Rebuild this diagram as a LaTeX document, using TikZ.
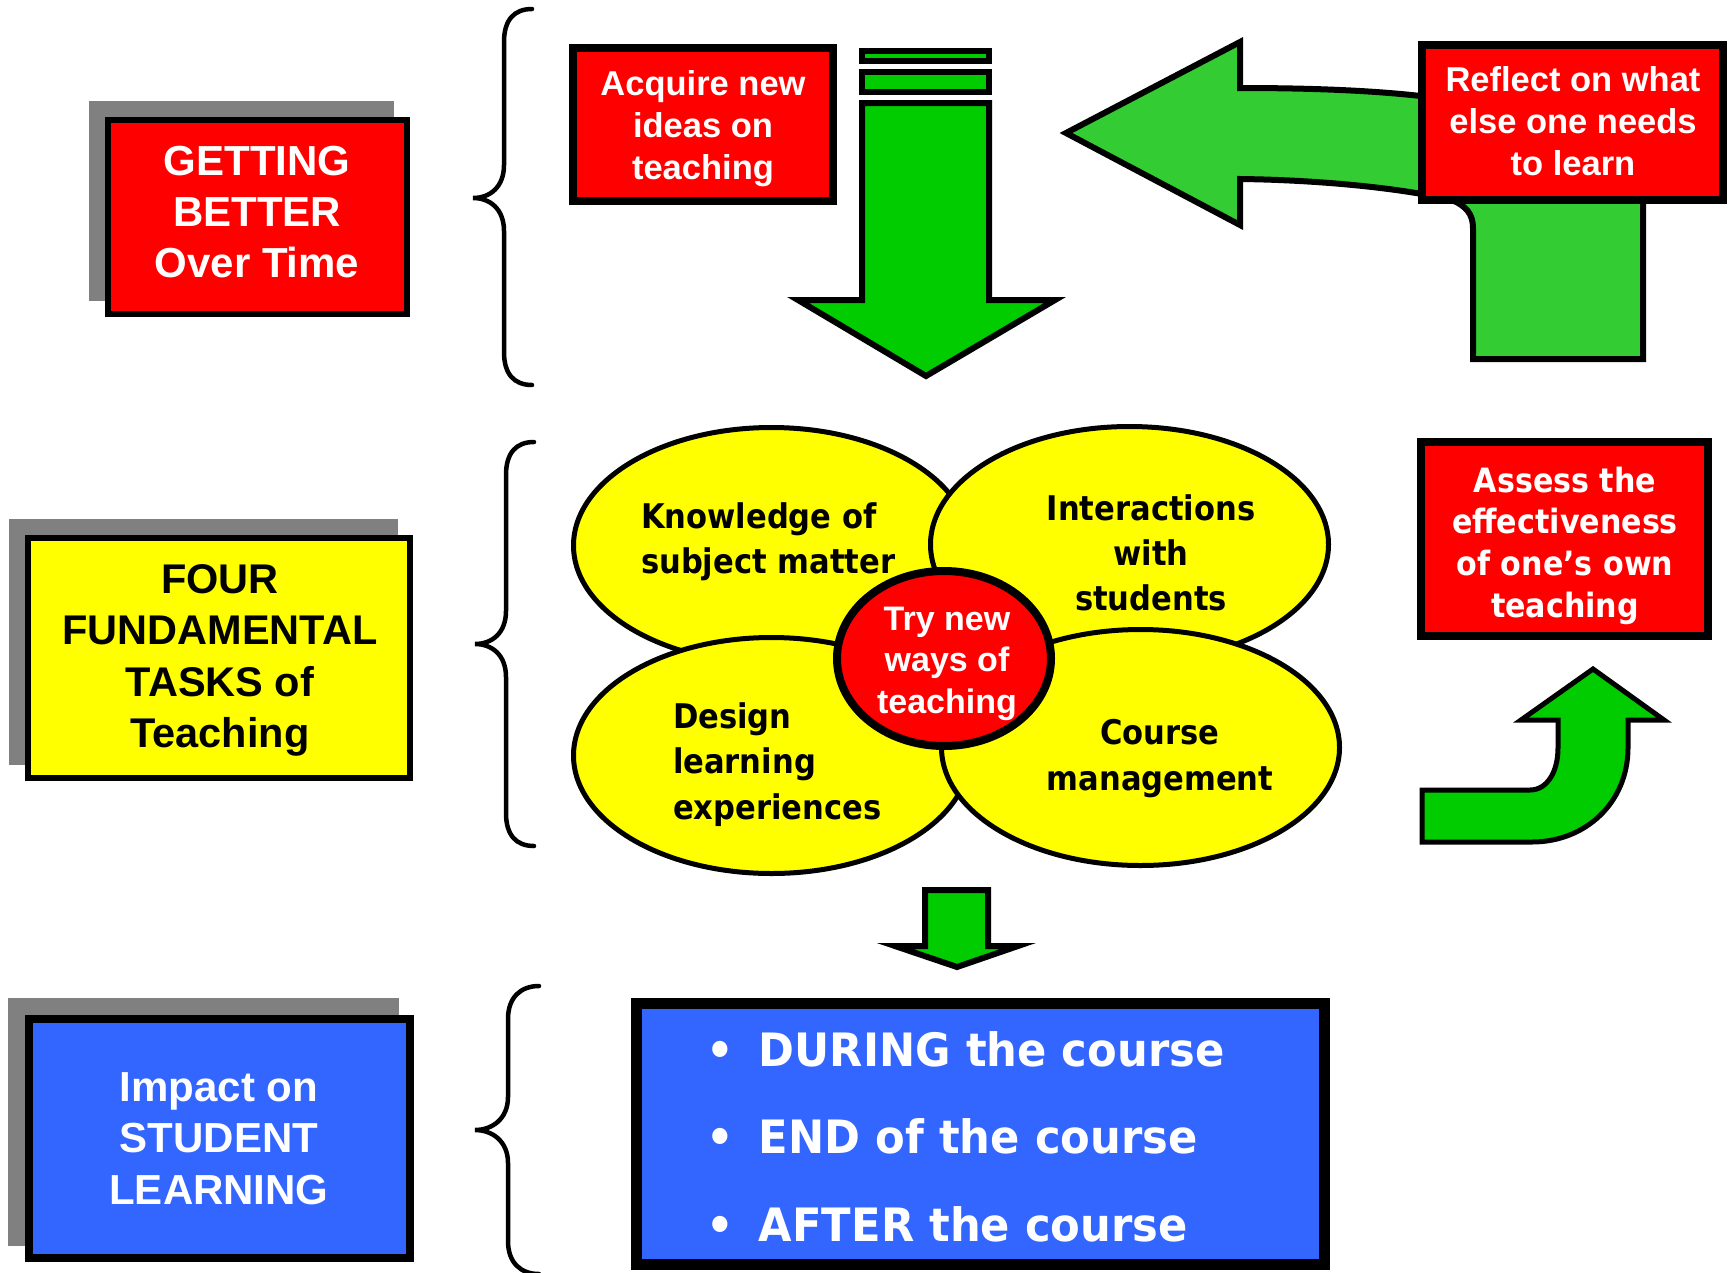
\documentclass[tikz,border=0pt]{standalone}
\usepackage{fontspec}
\setmainfont{Liberation Sans}
\newfontfamily\tahomab{DejaVu Sans}[FakeStretch=0.9]
\newfontfamily\tahomalist{DejaVu Sans}[FakeStretch=0.94]
\usetikzlibrary{shapes.geometric}

\definecolor{boxred}{HTML}{FF0000}
\definecolor{boxyellow}{HTML}{FFFF00}
\definecolor{boxblue}{HTML}{3366FF}
\definecolor{shadowgray}{HTML}{808080}
\definecolor{arrowgreen}{HTML}{00CC00}
\definecolor{arrowlight}{HTML}{33CC33}

% stacked lines of text; the node's base anchor sits on the first baseline
\newcommand\linestack[2]{\begin{tabular}[t]{@{}#1@{}}#2\end{tabular}}

\tikzset{
  shadowbox/.style={fill=shadowgray, draw=none},
  panel/.style={rectangle, draw=black, inner sep=0pt, outer sep=0pt},
  redpanel/.style={panel, fill=boxred, line width=8pt},
  petal/.style={ellipse, draw=black, fill=boxyellow, line width=5pt, inner sep=0pt},
  hub/.style={ellipse, draw=black, fill=boxred, line width=8pt, inner sep=0pt},
  brace/.style={draw=black, line width=4.5pt, line cap=round, fill=none},
  greenarrow/.style={draw=black, fill=arrowgreen, line width=6pt, line join=miter},
  txt/.style={inner sep=0pt, outer sep=0pt, anchor=base},
  txtl/.style={inner sep=0pt, outer sep=0pt, anchor=base west},
  headline/.style={font=\fontsize{42}{51}\selectfont\bfseries},
}

\begin{document}
\begin{tikzpicture}[x=1pt, y=-1pt]
\useasboundingbox (0,0) rectangle (1732,1272);

% ---------- curly braces ----------
\draw[brace] (532,9) .. controls (514,9) and (504,20) .. (504,42) -- (504,165)
  .. controls (504,187) and (490,198) .. (473,198)
  .. controls (490,198) and (504,209) .. (504,231) -- (504,352)
  .. controls (504,374) and (514,385) .. (532,385);
\draw[brace] (534,442) .. controls (516,442) and (506,453) .. (506,475) -- (506,611)
  .. controls (506,633) and (492,644) .. (475,644)
  .. controls (492,644) and (506,655) .. (506,677) -- (506,813)
  .. controls (506,835) and (516,846) .. (534,846);
\draw[brace] (539,986) .. controls (521,986) and (508,997) .. (508,1019) -- (508,1097)
  .. controls (508,1119) and (492,1130) .. (475,1130)
  .. controls (492,1130) and (508,1141) .. (508,1163) -- (508,1241)
  .. controls (508,1263) and (521,1274) .. (539,1274);

% ---------- left column panels ----------
\fill[shadowbox] (89,101) rectangle (394,301);
\node[panel, fill=boxred, line width=6pt, minimum width=299pt, minimum height=194pt]
  (getting) at (257.5,217) {};
\node[txt, headline, text=white] (gettingtext) at (257,175)
  {\linestack{c}{GETTING\\BETTER\\Over Time}};

\fill[shadowbox] (9,519) rectangle (398,765);
\node[panel, fill=boxyellow, line width=6pt, minimum width=382pt, minimum height=240pt]
  (four) at (219,658) {};
\node[txt, font=\fontsize{41.5}{51.5}\selectfont\bfseries] (fourtext) at (220,593)
  {\linestack{c}{FOUR\\FUNDAMENTAL\\TASKS of\\Teaching}};

\fill[shadowbox] (8,998) rectangle (399,1246);
\node[panel, fill=boxblue, line width=8pt, minimum width=381pt, minimum height=239pt]
  (impact) at (219.5,1138.5) {};
\node[txt, font=\fontsize{42}{51.5}\selectfont\bfseries, text=white] (impacttext) at (219,1101)
  {\linestack{c}{Impact on\\STUDENT\\LEARNING}};

% ---------- top row: learning cycle ----------
\node[redpanel, minimum width=260pt, minimum height=153pt] (acquire) at (703,124.5) {};
\node[txt, font=\fontsize{34.5}{42}\selectfont\bfseries, text=white] (acquiretext) at (703,95)
  {\linestack{c}{Acquire new\\ideas on\\teaching}};

% down arrow with its two header stripes
\draw[greenarrow] (862,51) rectangle (989,61);
\draw[greenarrow] (862,72) rectangle (989,92);
\draw[greenarrow] (862,103) -- (989,103) -- (989,300) -- (1055,300) -- (926,376)
  -- (798,300) -- (862,300) -- cycle;

% bent arrow coming up behind the reflection box and turning left
\draw[greenarrow, fill=arrowlight] (1066,133) -- (1240,42) -- (1240,88)
  .. controls (1330,88) and (1400,92) .. (1450,100) -- (1600,130)
  .. controls (1630,140) and (1643,170) .. (1643,205) -- (1643,359) -- (1473,359)
  -- (1473,228) .. controls (1473,214) and (1466,206) .. (1452,200)
  .. controls (1400,188) and (1320,180) .. (1240,179) -- (1240,225) -- cycle;

\node[redpanel, minimum width=301pt, minimum height=155pt] (reflect) at (1572.5,122.5) {};
\node[txt, font=\fontsize{34.5}{42}\selectfont\bfseries, text=white] (reflecttext) at (1573,91)
  {\linestack{c}{Reflect on what\\else one needs\\to learn}};

% ---------- middle row: the four tasks ----------
\node[petal, minimum width=396pt, minimum height=236pt] (knowledge) at (771.5,545.5) {};
\node[petal, minimum width=398pt, minimum height=236pt] (interact) at (1129.5,544.5) {};
\node[petal, minimum width=396pt, minimum height=236pt] (design) at (771.5,755.5) {};
\node[petal, minimum width=398pt, minimum height=236pt] (course) at (1140.5,747.5) {};
\node[hub, minimum width=214pt, minimum height=175pt] (trynew) at (944,658.5) {};

\node[txtl, font=\tahomab\fontsize{34}{45}\selectfont\bfseries] (knowledgetext) at (641,528)
  {\linestack{l}{Knowledge of\\subject matter}};
\node[txt, font=\tahomab\fontsize{34}{45}\selectfont\bfseries] (interacttext) at (1151,520)
  {\linestack{c}{Interactions\\with\\students}};
\node[txtl, font=\tahomab\fontsize{34}{45.5}\selectfont\bfseries] (designtext) at (673,728)
  {\linestack{l}{Design\\learning\\experiences}};
\node[txt, font=\tahomab\fontsize{34}{46}\selectfont\bfseries] (coursetext) at (1160,744)
  {\linestack{c}{Course\\management}};
\node[txt, font=\fontsize{34}{41.5}\selectfont\bfseries, text=white] (trynewtext) at (947,630)
  {\linestack{c}{Try new\\ways of\\teaching}};

% assessment box and its curved arrow
\node[redpanel, minimum width=287pt, minimum height=194pt] (assess) at (1564.5,539) {};
\node[txt, font=\tahomab\fontsize{33.5}{41.7}\selectfont\bfseries, text=white] (assesstext) at (1565,492)
  {\linestack{c}{Assess the\\effectiveness\\of one’s own\\teaching}};

\draw[greenarrow, line width=5pt] (1593,669) -- (1664,720) -- (1628,720) -- (1628,748)
  .. controls (1628,802) and (1586,842) .. (1532,842) -- (1422,842) -- (1422,790)
  -- (1530,790) .. controls (1547,790) and (1558,772) .. (1558,748) -- (1558,720)
  -- (1521,720) -- cycle;

% ---------- bottom row: impact ----------
\draw[greenarrow] (925,890) -- (988,890) -- (988,946) -- (1018,946) -- (957,967)
  -- (895,946) -- (925,946) -- cycle;

\node[panel, fill=boxblue, line width=11pt, minimum width=688pt, minimum height=261pt]
  (when) at (980.5,1134) {};
\node[txtl, font=\tahomalist\fontsize{46}{87.5}\selectfont\bfseries, text=white] (whentext) at (720,1066)
  {\linestack{l}{\makebox[0pt]{•}\hspace{39pt}DURING the course\\
                 \makebox[0pt]{•}\hspace{39pt}END of the course\\
                 \makebox[0pt]{•}\hspace{39pt}AFTER the course}};
\end{tikzpicture}
\end{document}
